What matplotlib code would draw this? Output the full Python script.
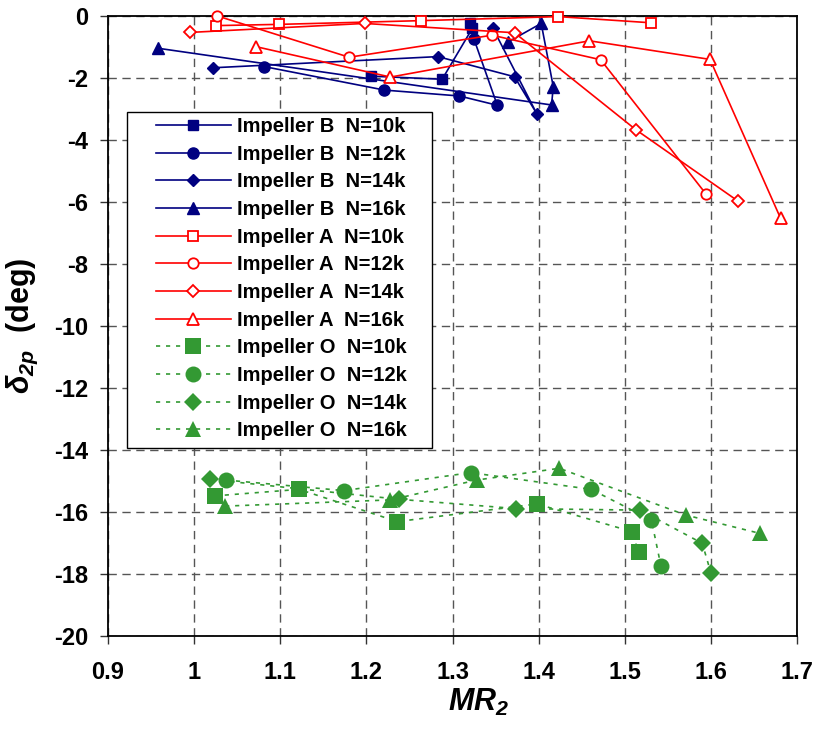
import matplotlib
matplotlib.use("Agg")
import matplotlib.pyplot as plt
from matplotlib.patches import Rectangle

plt.rcParams['font.family'] = ['Liberation Sans', 'DejaVu Sans']
plt.rcParams['mathtext.fontset'] = 'custom'
plt.rcParams['mathtext.it'] = 'Liberation Sans:italic:bold'
plt.rcParams['mathtext.rm'] = 'Liberation Sans:italic:bold'
plt.rcParams['mathtext.bf'] = 'Liberation Sans:italic:bold'

# ---------------- data ----------------
labels = ["Impeller B  N=10k", "Impeller B  N=12k", "Impeller B  N=14k", "Impeller B  N=16k",
          "Impeller A  N=10k", "Impeller A  N=12k", "Impeller A  N=14k", "Impeller A  N=16k",
          "Impeller O  N=10k", "Impeller O  N=12k", "Impeller O  N=14k", "Impeller O  N=16k"]

b10_x = [1.205, 1.288, 1.323, 1.320]
b10_y = [-1.94, -2.04, -0.40, -0.22]
b12_x = [1.081, 1.221, 1.308, 1.352, 1.325]
b12_y = [-1.63, -2.39, -2.58, -2.88, -0.75]
b14_x = [1.022, 1.283, 1.372, 1.398, 1.347]
b14_y = [-1.67, -1.31, -1.96, -3.16, -0.40]
b16_x = [0.958, 1.415, 1.417, 1.403, 1.365]
b16_y = [-1.04, -2.87, -2.28, -0.24, -0.83]

a10_x = [1.025, 1.099, 1.263, 1.423, 1.531]
a10_y = [-0.31, -0.27, -0.15, -0.02, -0.22]
a12_x = [1.027, 1.180, 1.346, 1.472, 1.594]
a12_y = [0.0, -1.33, -0.62, -1.41, -5.73]
a14_x = [0.995, 1.198, 1.372, 1.513, 1.632]
a14_y = [-0.53, -0.24, -0.54, -3.67, -5.98]
a16_x = [1.072, 1.228, 1.459, 1.599, 1.681]
a16_y = [-0.99, -1.97, -0.80, -1.40, -6.53]

o10_x = [1.024, 1.122, 1.236, 1.398, 1.508, 1.516]
o10_y = [-15.48, -15.27, -16.31, -15.74, -16.63, -17.28]
o12_x = [1.037, 1.174, 1.321, 1.461, 1.531, 1.542]
o12_y = [-14.97, -15.31, -14.73, -15.27, -16.26, -17.74]
o14_x = [1.019, 1.238, 1.374, 1.518, 1.590, 1.600]
o14_y = [-14.95, -15.59, -15.89, -15.94, -17.01, -17.96]
o16_x = [1.036, 1.228, 1.328, 1.424, 1.571, 1.657]
o16_y = [-15.81, -15.61, -14.97, -14.59, -16.10, -16.69]

x_ticks = [0.9, 1.0, 1.1, 1.2, 1.3, 1.4, 1.5, 1.6, 1.7]
x_ticklabels = ["0.9", "1", "1.1", "1.2", "1.3", "1.4", "1.5", "1.6", "1.7"]
y_ticks = [0, -2, -4, -6, -8, -10, -12, -14, -16, -18, -20]

# ---------------- figure ----------------
W, H = 817, 743
fig = plt.figure(figsize=(W / 100, H / 100), dpi=100)
ax_l, ax_r, ax_t, ax_b = 108, 797, 16, 636
ax = fig.add_axes([ax_l / W, 1 - ax_b / H, (ax_r - ax_l) / W, (ax_b - ax_t) / H])

blue = '#000080'
red = '#ff0000'
green = '#339933'

series = [
    (b10_x, b10_y, 's', blue, True), (b12_x, b12_y, 'o', blue, True),
    (b14_x, b14_y, 'D', blue, True), (b16_x, b16_y, '^', blue, True),
    (a10_x, a10_y, 's', red, False), (a12_x, a12_y, 'o', red, False),
    (a14_x, a14_y, 'D', red, False), (a16_x, a16_y, '^', red, False),
    (o10_x, o10_y, 's', green, True), (o12_x, o12_y, 'o', green, True),
    (o14_x, o14_y, 'D', green, True), (o16_x, o16_y, '^', green, True),
]

handles = []
for i, (xs, ys, mk, col, filled) in enumerate(series):
    if col == green:
        ms = {'s': 11, 'o': 11.5, 'D': 9, '^': 12}[mk]
        ln, = ax.plot(xs, ys, linestyle=(0, (2.5, 3.5)), lw=1.2, color=col,
                      marker=mk, ms=ms, mfc=col, mec=col, mew=0, clip_on=False, zorder=3)
    else:
        ms = {'s': 7.5, 'o': 8, 'D': 6.5, '^': 8.5}[mk] if filled else {'s': 7, 'o': 7.5, 'D': 6.5, '^': 8}[mk]
        ln, = ax.plot(xs, ys, '-', lw=1.2, color=col, marker=mk, ms=ms,
                      mfc=col if filled else 'white', mec=col, mew=1.3 if not filled else 1,
                      clip_on=False, zorder=3)
    ln.set_label(labels[i])
    handles.append(ln)

ax.set_xlim(0.9, 1.7)
ax.set_ylim(-20, 0)
ax.set_xticks(x_ticks)
ax.set_xticklabels(x_ticklabels)
ax.set_yticks(y_ticks)
ax.set_yticklabels([f"{v:d}" for v in y_ticks])
for lab in ax.get_xticklabels() + ax.get_yticklabels():
    lab.set_fontweight('bold')
    lab.set_fontsize(17)
ax.tick_params(axis='both', direction='out', length=6, width=1, pad=8, color='#333333')
ax.tick_params(axis='x', pad=12)

ax.grid(True, color='#555555', linestyle=(0, (6, 4)), lw=1)
ax.set_axisbelow(True)
for sp in ax.spines.values():
    sp.set_linewidth(1.3)
    sp.set_color('black')

ax.set_xlabel(r'$MR_{2}$', fontsize=22)
ax.xaxis.set_label_coords((479 - ax_l) / (ax_r - ax_l), -(687 - ax_b) / (ax_b - ax_t))
ax.set_ylabel(r'$\delta_{2p}$  (deg)', fontsize=22, fontweight='bold')
ax.yaxis.set_label_coords(-(ax_l - 40) / (ax_r - ax_l), 0.5)

# legend frame
lx0, lx1, ly0, ly1 = 127, 432, 112, 448
rect = Rectangle((lx0 / W, 1 - ly1 / H), (lx1 - lx0) / W, (ly1 - ly0) / H,
                 transform=fig.transFigure, facecolor='white', edgecolor='black',
                 lw=1, zorder=4)
ax.add_patch(rect)
rect.set_clip_on(False)
leg = ax.legend(handles=handles, loc='upper left', bbox_to_anchor=(156 / W, 1 - 117 / H),
                bbox_transform=fig.transFigure, frameon=False, borderpad=0, borderaxespad=0,
                handlelength=3.7, handletextpad=0.3, labelspacing=0.43,
                prop={'weight': 'bold', 'size': 14.5})
leg.set_zorder(6)

fig.savefig('out.png', dpi=100)
